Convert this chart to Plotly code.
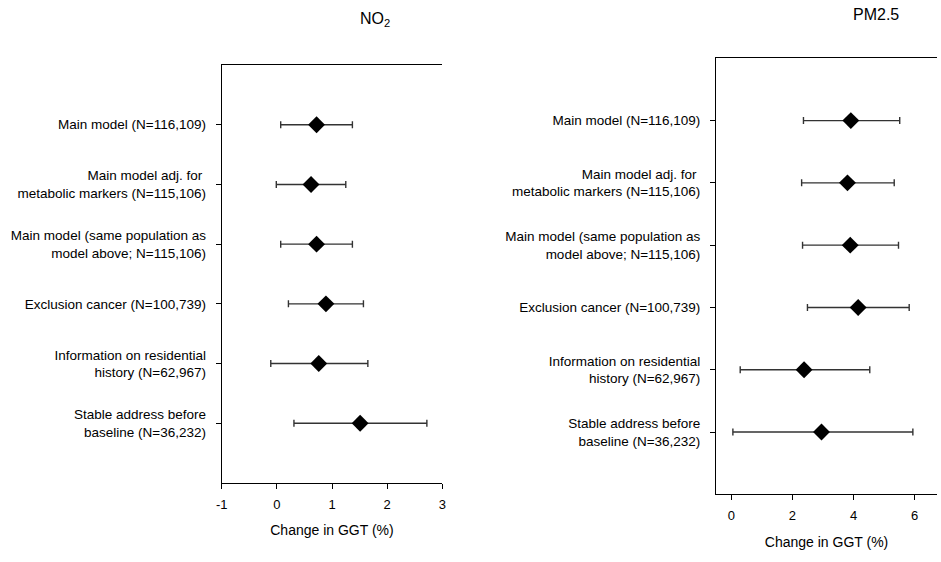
import plotly.graph_objects as go

labels = [
    "Main model (N=116,109)",
    "Main model adj. for <br>metabolic markers (N=115,106)",
    "Main model (same population as<br>model above; N=115,106)",
    "Exclusion cancer (N=100,739)",
    "Information on residential<br>history (N=62,967)",
    "Stable address before<br>baseline (N=36,232)",
]
rows = [1, 2, 3, 4, 5, 6]

no2_est = [0.72, 0.62, 0.72, 0.89, 0.76, 1.51]
no2_lo = [0.07, -0.01, 0.07, 0.21, -0.11, 0.31]
no2_hi = [1.37, 1.25, 1.37, 1.57, 1.65, 2.72]
no2_ticks = [-1, 0, 1, 2, 3]

pm_est = [3.91, 3.80, 3.89, 4.15, 2.38, 2.95]
pm_lo = [2.36, 2.30, 2.33, 2.49, 0.29, 0.05]
pm_hi = [5.51, 5.33, 5.47, 5.82, 4.53, 5.94]
pm_ticks = [0, 2, 4, 6]

FONT = "Liberation Sans, Arial, sans-serif"

fig = go.Figure()


def add(est, lo, hi, xa, ya):
    fig.add_trace(go.Scatter(
        x=est, y=rows, mode="markers", xaxis=xa, yaxis=ya,
        marker=dict(symbol="diamond", size=13, color="black"),
        error_x=dict(type="data", symmetric=False,
                     array=[h - e for h, e in zip(hi, est)],
                     arrayminus=[e - l for e, l in zip(est, lo)],
                     color="#333333", thickness=1.4, width=3.5),
        showlegend=False, hoverinfo="skip"))


add(no2_est, no2_lo, no2_hi, "x", "y")
add(pm_est, pm_lo, pm_hi, "x2", "y2")

xcommon = dict(showline=True, linecolor="black", linewidth=1, mirror=True,
               ticks="outside", ticklen=5, tickcolor="black", showgrid=False,
               zeroline=False, ticklabelstandoff=4,
               tickfont=dict(size=13, color="black", family=FONT),
               title_font=dict(size=14, color="black", family=FONT))
ycommon = dict(showline=True, linecolor="black", linewidth=1, mirror=False,
               ticks="outside", ticklen=5, tickcolor="black", showgrid=False,
               zeroline=False, tickvals=rows, ticktext=labels,
               range=[7, 0], ticklabelstandoff=7,
               tickfont=dict(size=13.5, color="black", family=FONT))

fig.update_layout(
    width=941, height=562,
    margin=dict(l=0, r=0, t=0, b=0),
    paper_bgcolor="white", plot_bgcolor="white",
    font=dict(family=FONT, color="black"),
    xaxis=dict(domain=[218 / 941, 441 / 941], range=[-1, 3],
               tickvals=no2_ticks, ticktext=[str(t) for t in no2_ticks], anchor="y",
               title=dict(text="Change in GGT (%)", standoff=14), **xcommon),
    yaxis=dict(domain=[1 - 483 / 562, 1 - 65 / 562], anchor="x", **ycommon),
    xaxis2=dict(domain=[717.7 / 941, 1.0], range=[-0.5, 6.73],
                tickvals=pm_ticks, ticktext=[str(t) for t in pm_ticks], anchor="y2",
                title=dict(text="Change in GGT (%)", standoff=15), **xcommon),
    yaxis2=dict(domain=[1 - 494.3 / 562, 1 - 58.3 / 562], anchor="x2", **ycommon),
    annotations=[
        dict(text="NO<sub>2</sub>", x=373 / 941, y=1 - 19 / 562, xref="paper",
             yref="paper", yanchor="middle", showarrow=False,
             font=dict(size=16, family=FONT)),
        dict(text="PM2.5", x=905 / 941, y=1 - 15 / 562, xref="paper",
             yref="paper", yanchor="middle", showarrow=False,
             font=dict(size=16, family=FONT)),
    ],
)

fig.write_html("out.html")
